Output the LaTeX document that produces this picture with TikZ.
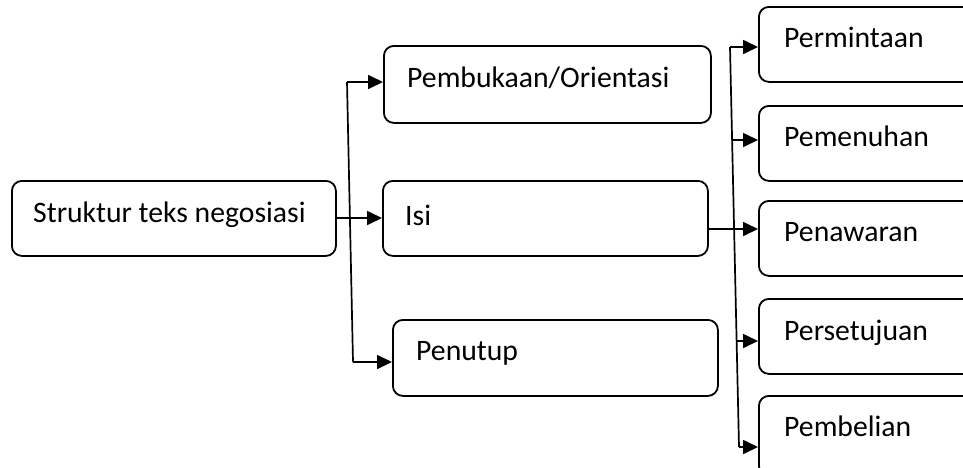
\documentclass[tikz,border=0pt]{standalone}
\usepackage{fontspec}
\setmainfont{Carlito}
\usetikzlibrary{arrows.meta}
\begin{document}
\begin{tikzpicture}[x=1pt,y=-1pt,
  box/.style={draw=black, line width=1.8pt, rounded corners=10pt, anchor=north west, inner sep=0pt},
  txt/.style={anchor=base west, inner sep=0pt, font=\fontsize{29.7}{32}\selectfont},
  conn/.style={line width=1.7pt},
  arr/.style={line width=1.7pt, -{Triangle[length=15pt,width=14pt]}}]
\clip (0,0) rectangle (963,467);
\fill[white] (0,0) rectangle (963,467);
% left and middle boxes
\node[box, minimum width=324pt, minimum height=75pt] (s) at (11,180) {};
\node[box, minimum width=327pt, minimum height=77pt] (o) at (383,45) {};
\node[box, minimum width=325pt, minimum height=75pt] (i) at (382,180) {};
\node[box, minimum width=325pt, minimum height=76pt] (p) at (392,319) {};
% right boxes
\node[box, minimum width=240pt, minimum height=75pt] (r1) at (758,6) {};
\node[box, minimum width=240pt, minimum height=75pt] (r2) at (758,105) {};
\node[box, minimum width=240pt, minimum height=75pt] (r3) at (758,200) {};
\node[box, minimum width=240pt, minimum height=75pt] (r4) at (758,298) {};
\node[box, minimum width=240pt, minimum height=80pt] (r5) at (758,395) {};
% texts
\node[txt] (ts) at (33,222) {Struktur teks negosiasi};
\node[txt] (to) at (407,87) {Pembukaan/Orientasi};
\node[txt] (ti) at (405,225) {Isi};
\node[txt] (tp) at (416,360) {Penutup};
\node[txt] (t1) at (784,47) {Permintaan};
\node[txt] (t2) at (784,146) {Pemenuhan};
\node[txt] (t3) at (784,241) {Penawaran};
\node[txt] (t4) at (784,340) {Persetujuan};
\node[txt] (t5) at (784,436) {Pembelian};
% left connectors
\coordinate (a) at (335,218);
\draw[arr] (a) -- (a -| i.west);
\coordinate (v1) at (347,82);
\coordinate (v2) at (353,362);
\draw[conn] (v1) -- (v2);
\draw[arr] (v1) -- (v1 -| o.west);
\draw[arr] (v2) -- (v2 -| p.west);
% right connectors
\coordinate (b) at (707,229);
\draw[arr] (b) -- (b -| r3.west);
\coordinate (w1) at (730,47);
\coordinate (w2) at (732.1,140);
\coordinate (w4) at (736.6,341);
\coordinate (w5) at (739,447);
\draw[conn] (w1) -- (w5);
\draw[arr] (w1) -- (w1 -| r1.west);
\draw[arr] (w2) -- (w2 -| r2.west);
\draw[arr] (w4) -- (w4 -| r4.west);
\draw[arr] (w5) -- (w5 -| r5.west);
\end{tikzpicture}
\end{document}
